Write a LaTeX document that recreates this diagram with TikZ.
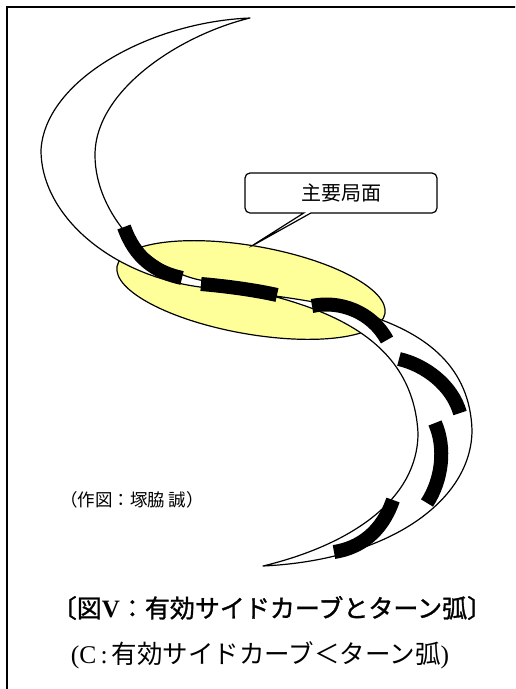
\documentclass[tikz,border=0pt]{standalone}
\usepackage{fontspec}
\setmainfont{Liberation Serif}
\newfontfamily\jp{Noto Sans CJK JP}
\newfontfamily\jpheavy{Noto Sans CJK JP}[FakeBold=1.2]
\usetikzlibrary{shapes.callouts}
\definecolor{zoneyellow}{RGB}{255,255,153}
\tikzset{
    frameline/.style={line width=1.3pt},
    track/.style={draw,fill=white,line width=1.2pt,line join=round},
    zone/.style={draw,fill=zoneyellow,line width=1.2pt},
    arcdash/.style={line width=14pt},
    bubble/.style={rectangle callout,draw,fill=white,line width=1.2pt,rounded corners=5pt,
        minimum width=192pt,minimum height=40pt,font=\jp\fontsize{20}{24}\selectfont},
    credit/.style={font=\jp\fontsize{17.5}{21}\selectfont},
    title/.style={font=\fontsize{25}{30}\selectfont},
    subtitle/.style={font=\fontsize{25.5}{30}\selectfont}
}

\begin{document}
\begin{tikzpicture}[x=1pt,y=-1pt]
    \useasboundingbox (0,0) rectangle (515,689);
    \clip (0,0) rectangle (515,689);
    \draw[frameline] (7,700) |- (525,7);

    % main phase zone
    \draw[zone,rotate around={-10:(251,290)}] (251,290) ellipse [x radius=136,y radius=44];

    % side cut band: outer edge down to the lower tip, inner edge back up
    \draw[track] (250,18) .. controls (150,22) and (45,80) .. (41,150)
        .. controls (41,215) and (110,275) .. (200,287)
        .. controls (300,300) and (468,305) .. (472,430)
        .. controls (472,500) and (390,560) .. (263,566)
        .. controls (350,545) and (418,500) .. (418,433)
        .. controls (412,320) and (290,298) .. (200,280)
        .. controls (150,270) and (95,215) .. (95,155)
        .. controls (95,90) and (180,35) .. (250,18) -- cycle;

    % turn arc
    \draw[arcdash] (124,227) .. controls (135,258) and (155,272) .. (182,278);
    \draw[arcdash] (201,284) .. controls (225,286) and (255,290) .. (277,295);
    \draw[arcdash] (312,306) .. controls (340,300) and (372,312) .. (387,340);
    \draw[arcdash] (399,359) .. controls (425,365) and (452,385) .. (460,413);
    \draw[arcdash] (435,423) .. controls (446,448) and (442,480) .. (427,503);
    \draw[arcdash] (393,500) .. controls (382,532) and (360,548) .. (334,552);

    \node[bubble,callout absolute pointer={(250,247)}] (phase) at (341,193) {主要局面};

    \node[credit] (author) at (132,500) {（作図：塚脇 誠）};
    \node[title] (caption) at (272,608) {{\jpheavy 〔図}\textbf{V}{\jpheavy ：有効サイドカーブとターン弧〕}};
    \node[subtitle] (note) at (260,655) {(C\,:\,{\jp 有効サイドカーブ＜ターン弧})};
\end{tikzpicture}
\end{document}
